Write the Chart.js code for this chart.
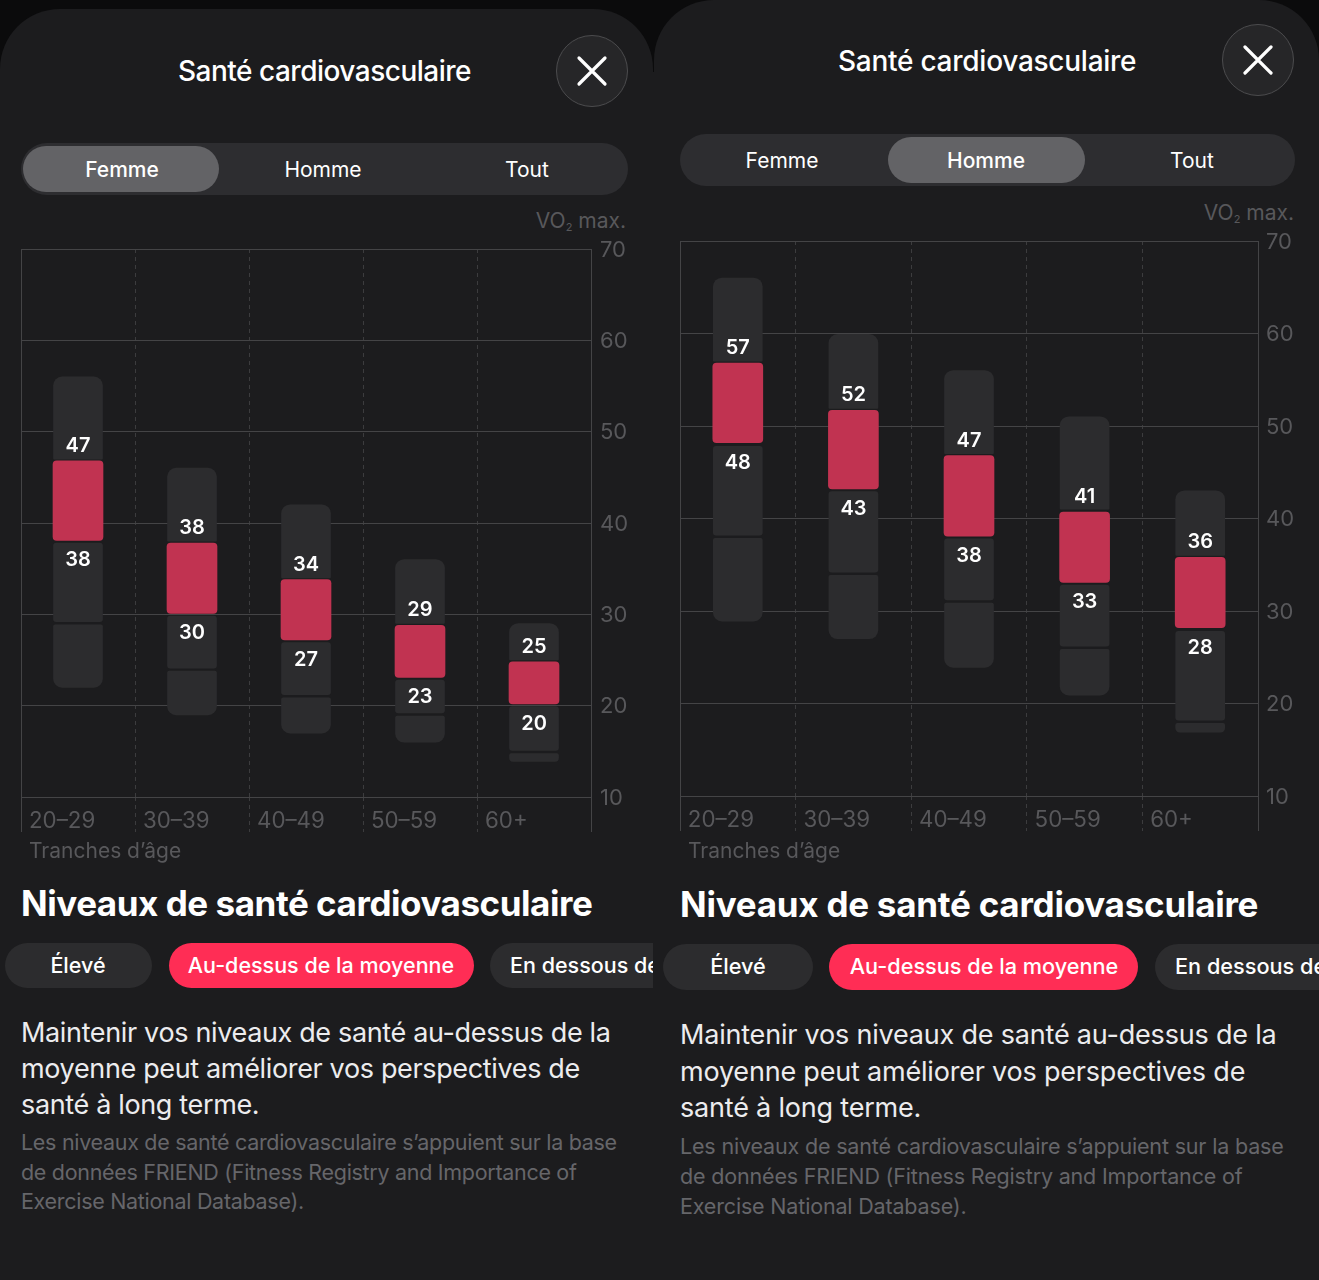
<!DOCTYPE html>
<html lang="fr">
<head>
<meta charset="utf-8">
<title>Santé cardiovasculaire</title>
<script src="https://cdn.jsdelivr.net/npm/chart.js@4"></script>
<style>
  html, body { margin: 0; padding: 0; background: #0b0b0c; width: 1319px; height: 1280px; overflow: hidden; }
  body { font-family: Inter, "Noto Sans", sans-serif; }
  .phone { position: absolute; top: 0; height: 1280px; overflow: hidden; }
  .sheet { position: absolute; left: 0; right: 0; bottom: 0; background: #1c1c1e; border-radius: 60px 60px 0 0; }
  .seam { position: absolute; left: 653px; top: 72px; bottom: 0; width: 1px; background: #1c1c1e; }
  .t { position: absolute; white-space: nowrap; transform: translateY(-50%); line-height: 1; }
  .title { color: #fff; font-size: 28px; font-weight: 500; }
  .seg { color: #fff; font-size: 21px; font-weight: 400; transform: translate(-50%, -50%); }
  .seg.on { font-weight: 500; }
  .axisname { color: #58585b; font-size: 21px; }
  .axisname sub { font-size: 11px; line-height: 0; vertical-align: -3px; }
  .h { color: #fff; font-size: 35px; font-weight: 700; }
  .chip { color: #fff; font-weight: 500; transform: translate(-50%, -50%); }
  .body { color: #ececee; font-size: 27px; }
  .note { color: #66666a; font-size: 21.5px; }
  .box { position: absolute; }
  canvas { position: absolute; }
  #left .title { letter-spacing: -0.5px; }
  #left .h { letter-spacing: -0.46px; }
  #left .chip { font-size: 21.5px; }
  #left .body { letter-spacing: -0.35px; }
  #left .note { letter-spacing: -0.3px; }
  #right .title { letter-spacing: -0.26px; }
  #right .h { letter-spacing: -0.25px; }
  #right .chip { font-size: 21.7px; }
  #right .body { letter-spacing: -0.2px; }
  #right .note { letter-spacing: -0.17px; }
</style>
</head>
<body>

<div class="seam"></div>

<div class="phone" id="left" style="left:0;width:653px">
  <div class="sheet" style="top:9px"></div>
  <div class="t title" style="left:178px;top:71px">Santé cardiovasculaire</div>
  <svg class="box" style="left:555px;top:34px" width="74" height="74">
    <circle cx="37" cy="37" r="35.5" fill="#262628" stroke="#4c4c4e" stroke-width="1"/>
    <path d="M24 24L50 50M50 24L24 50" stroke="#fff" stroke-width="3.2" stroke-linecap="round"/>
  </svg>
  <div class="box" style="left:21px;top:143px;width:607px;height:52px;border-radius:26px;background:#2d2d30"></div>
  <div class="box" style="left:23px;top:146px;width:196px;height:46px;border-radius:23px;background:#636366"></div>
  <div class="t seg on" style="left:122px;top:169px">Femme</div>
  <div class="t seg" style="left:323px;top:169px">Homme</div>
  <div class="t seg" style="left:527px;top:169px">Tout</div>
  <div class="t axisname" style="right:27px;top:220px">VO<sub>2</sub> max.</div>
  <canvas id="chartFemme" width="653" height="640" style="left:0;top:200px"></canvas>
  <div class="t axisname" style="left:29px;top:850px">Tranches d’âge</div>
  <div class="t h" style="left:21px;top:903px">Niveaux de santé cardiovasculaire</div>
  <div class="box" style="left:5px;top:943px;width:147px;height:45px;border-radius:23px;background:#2c2c2e"></div>
  <div class="box" style="left:169px;top:943px;width:305px;height:45px;border-radius:23px;background:#ff2d55"></div>
  <div class="box" style="left:490px;top:943px;width:305px;height:45px;border-radius:23px;background:#2c2c2e"></div>
  <div class="t chip" style="left:78px;top:965.5px">Élevé</div>
  <div class="t chip" style="left:321px;top:965.5px">Au-dessus de la moyenne</div>
  <div class="t chip" style="left:510px;top:965.5px;transform:translateY(-50%)">En dessous de la moyenne</div>
  <div class="t body" style="left:21px;top:1032px">Maintenir vos niveaux de santé au-dessus de la</div>
  <div class="t body" style="left:21px;top:1068px">moyenne peut améliorer vos perspectives de</div>
  <div class="t body" style="left:21px;top:1104px">santé à long terme.</div>
  <div class="t note" style="left:21px;top:1143px">Les niveaux de santé cardiovasculaire s’appuient sur la base</div>
  <div class="t note" style="left:21px;top:1173px">de données FRIEND (Fitness Registry and Importance of</div>
  <div class="t note" style="left:21px;top:1202px">Exercise National Database).</div>
</div>

<div class="phone" id="right" style="left:654px;width:665px">
  <div class="sheet" style="top:0"></div>
  <div class="t title" style="left:184px;top:61px">Santé cardiovasculaire</div>
  <svg class="box" style="left:567px;top:23px" width="74" height="74">
    <circle cx="37" cy="37" r="35.5" fill="#262628" stroke="#4c4c4e" stroke-width="1"/>
    <path d="M24 24L50 50M50 24L24 50" stroke="#fff" stroke-width="3.2" stroke-linecap="round"/>
  </svg>
  <div class="box" style="left:26px;top:134px;width:615px;height:52px;border-radius:26px;background:#2d2d30"></div>
  <div class="box" style="left:234px;top:137px;width:197px;height:46px;border-radius:23px;background:#636366"></div>
  <div class="t seg" style="left:128px;top:160px">Femme</div>
  <div class="t seg on" style="left:332px;top:160px">Homme</div>
  <div class="t seg" style="left:538px;top:160px">Tout</div>
  <div class="t axisname" style="right:25px;top:212px">VO<sub>2</sub> max.</div>
  <canvas id="chartHomme" width="665" height="647" style="left:0;top:192px"></canvas>
  <div class="t axisname" style="left:34px;top:850px">Tranches d’âge</div>
  <div class="t h" style="left:26px;top:904px">Niveaux de santé cardiovasculaire</div>
  <div class="box" style="left:9px;top:944px;width:150px;height:46px;border-radius:23px;background:#2c2c2e"></div>
  <div class="box" style="left:175px;top:944px;width:309px;height:46px;border-radius:23px;background:#ff2d55"></div>
  <div class="box" style="left:501px;top:944px;width:305px;height:46px;border-radius:23px;background:#2c2c2e"></div>
  <div class="t chip" style="left:84px;top:967px">Élevé</div>
  <div class="t chip" style="left:330px;top:967px">Au-dessus de la moyenne</div>
  <div class="t chip" style="left:521px;top:967px;transform:translateY(-50%)">En dessous de la moyenne</div>
  <div class="t body" style="left:26px;top:1034px">Maintenir vos niveaux de santé au-dessus de la</div>
  <div class="t body" style="left:26px;top:1071px">moyenne peut améliorer vos perspectives de</div>
  <div class="t body" style="left:26px;top:1107px">santé à long terme.</div>
  <div class="t note" style="left:26px;top:1147px">Les niveaux de santé cardiovasculaire s’appuient sur la base</div>
  <div class="t note" style="left:26px;top:1177px">de données FRIEND (Fitness Registry and Importance of</div>
  <div class="t note" style="left:26px;top:1207px">Exercise National Database).</div>
</div>

<script>
const ageGroups = ['20–29', '30–39', '40–49', '50–59', '60+'];

// femme, bottom and top of each bar part in VO2 max.
const femmeTop = [[47, 56], [38, 46], [34, 42], [29, 36], [25, 29]];
const femmeAbove = [[38.1, 46.8], [30.1, 37.8], [27.2, 33.8], [23.1, 28.8], [20.2, 24.8]];
const femmeBelow = [[29.2, 37.8], [24.1, 29.8], [21.2, 26.9], [19.2, 22.8], [15.1, 19.9]];
const femmeLow = [[22, 28.85], [19, 23.8], [17, 20.85], [16, 18.85], [13.9, 14.75]];
const femmeHighLabels = [47, 38, 34, 29, 25];
const femmeLowLabels = [38, 30, 27, 23, 20];

// homme
const hommeTop = [[57, 66], [51.9, 59.9], [47, 56], [41, 51], [36, 43]];
const hommeAbove = [[48.2, 56.8], [43.2, 51.7], [38.1, 46.8], [33.1, 40.7], [28.2, 35.8]];
const hommeBelow = [[38.2, 47.8], [34.2, 42.9], [31.2, 37.8], [26.2, 32.8], [18.2, 27.8]];
const hommeLow = [[28.9, 37.85], [27, 33.85], [23.9, 30.85], [20.9, 25.85], [16.9, 17.85]];
const hommeHighLabels = [57, 52, 47, 41, 36];
const hommeLowLabels = [48, 43, 38, 33, 28];

const darkColor = '#2c2c2e';
const redColor = '#c13351';
const gridColor = '#444446';
const dashColor = '#3c3c3e';
const tickTextColor = '#58585b';

// white numbers above and under the red bar
const boundLabels = {
    id: 'boundLabels',
    afterDatasetsDraw(chart, args, opts) {
        const bars = chart.getDatasetMeta(1).data;
        const ctx = chart.ctx;
        ctx.save();
        ctx.font = '600 20px Inter';
        ctx.fillStyle = '#fff';
        ctx.textAlign = 'center';
        ctx.textBaseline = 'middle';
        bars.forEach((bar, i) => {
            ctx.fillText(opts.high[i], bar.x, bar.y - 15);
            ctx.fillText(opts.low[i], bar.x, bar.base + 20);
        });
        ctx.restore();
    }
};

function isOuterLine(c) {
    return c.index === undefined || c.index === 0;
}

function drawChart(id, parts, high, low, padLeft, axisWidth, labelShift, yPadding) {
    const partOptions = {
        borderSkipped: false,
        grouped: false
    };
    new Chart(document.getElementById(id), {
        type: 'bar',
        data: {
            labels: ageGroups,
            datasets: [
                { data: parts[0], backgroundColor: darkColor, barThickness: 49, borderRadius: { topLeft: 9, topRight: 9, bottomLeft: 1, bottomRight: 1 }, ...partOptions },
                { data: parts[1], backgroundColor: redColor, barThickness: 50, borderRadius: 4, ...partOptions },
                { data: parts[2], backgroundColor: darkColor, barThickness: 49, borderRadius: 3, ...partOptions },
                { data: parts[3], backgroundColor: darkColor, barThickness: 49, borderRadius: { topLeft: 2, topRight: 2, bottomLeft: 9, bottomRight: 9 }, ...partOptions }
            ]
        },
        options: {
            responsive: false,
            animation: false,
            layout: { padding: { left: padLeft, top: 49, right: 0, bottom: 0 } },
            plugins: {
                legend: { display: false },
                tooltip: { enabled: false },
                boundLabels: { high, low }
            },
            scales: {
                x: {
                    afterFit(scale) { scale.height = 43; },
                    grid: {
                        offset: true,
                        color: c => isOuterLine(c) ? gridColor : dashColor,
                        tickColor: c => isOuterLine(c) ? gridColor : dashColor,
                        tickLength: 35,
                        tickBorderDash: c => isOuterLine(c) ? [] : [4, 4]
                    },
                    border: { display: false, dash: c => isOuterLine(c) ? [] : [4, 4] },
                    ticks: {
                        color: tickTextColor,
                        font: { family: 'Inter', size: 22.3 },
                        align: 'start',
                        maxRotation: 0,
                        labelOffset: labelShift,
                        padding: -24
                    }
                },
                y: {
                    position: 'right',
                    min: 10,
                    max: 70,
                    afterFit(scale) { scale.width = axisWidth; },
                    grid: { color: gridColor, drawTicks: false },
                    border: { color: gridColor },
                    ticks: {
                        stepSize: 10,
                        color: tickTextColor,
                        font: { family: 'Inter', size: 22 },
                        padding: yPadding,
                        labelOffset: 1
                    }
                }
            }
        },
        plugins: [boundLabels]
    });
}

drawChart('chartFemme', [femmeTop, femmeAbove, femmeBelow, femmeLow], femmeHighLabels, femmeLowLabels, 21, 62, -49, 9);
drawChart('chartHomme', [hommeTop, hommeAbove, hommeBelow, hommeLow], hommeHighLabels, hommeLowLabels, 26, 61, -50, 8);
</script>
</body>
</html>
